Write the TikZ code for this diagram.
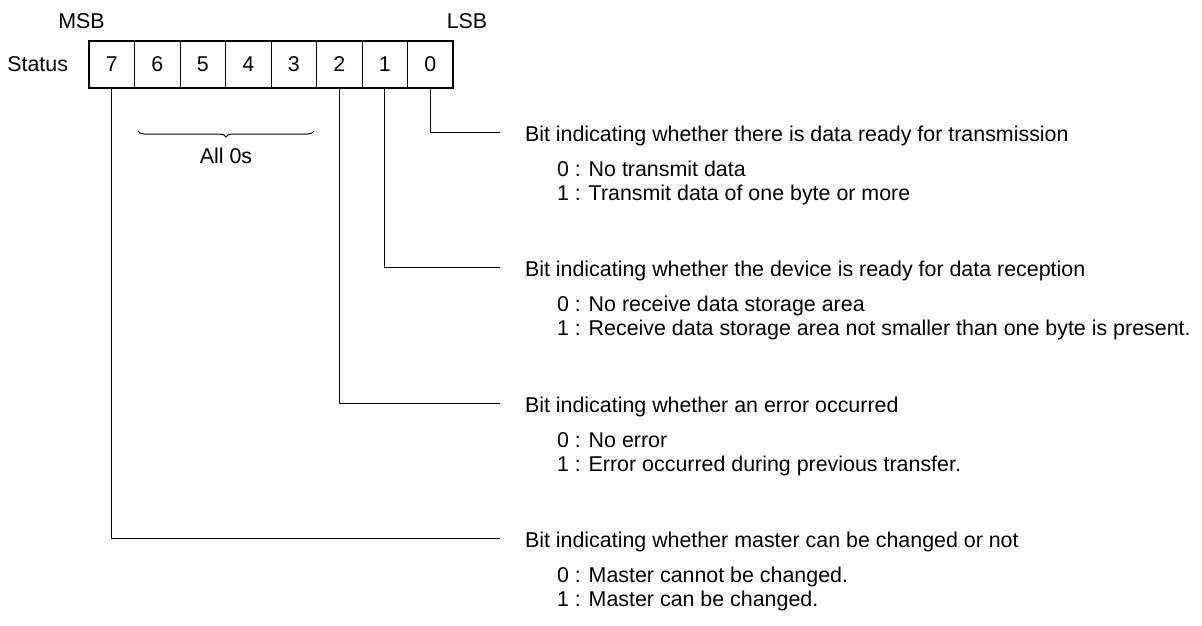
\documentclass[tikz,border=0pt]{standalone}
\usepackage{fontspec}
\setmainfont{Liberation Sans}
\usetikzlibrary{positioning,decorations.pathreplacing}

\begin{document}
\begin{tikzpicture}[x=1pt,y=-1pt,
  every node/.style={font=\fontsize{21.4}{25}\selectfont,inner sep=0pt,outer sep=0pt},
  cell/.style={draw,line width=1pt,minimum width=45.5pt,minimum height=47pt},
  frame/.style={draw,line width=2.6pt},
  link/.style={draw,line width=1pt},
  brace/.style={draw,line width=1pt,decorate,decoration={brace,mirror,amplitude=6pt}},
  head/.style={anchor=base west},
  choice/.style={anchor=base west},
  node distance=0pt
]
\useasboundingbox (0,0) rectangle (1202,626);
\node[cell] (b7) at (111.75,64.5) {7};
\foreach \i/\j in {6/7,5/6,4/5,3/4,2/3,1/2,0/1}
  \node[cell,right=of b\j] (b\i) {\i};
\draw[frame] (b7.north west) rectangle (b0.south east);
\node[left=21pt of b7] (status) {Status};
\node (msb) at (81.5,21) {MSB};
\node (lsb) at (467,21) {LSB};
\draw[brace] (138,131) -- (314,131);
\node (zeros) at (226,156) {All 0s};
\foreach \b/\y/\txt/\zero/\one in {
  0/132.5/{Bit indicating whether there is data ready for transmission}/{No transmit data}/{Transmit data of one byte or more},
  1/267.5/{Bit indicating whether the device is ready for data reception}/{No receive data storage area}/{Receive data storage area not smaller than one byte is present.},
  2/403/{Bit indicating whether an error occurred}/{No error}/{Error occurred during previous transfer.},
  7/538.5/{Bit indicating whether master can be changed or not}/{Master cannot be changed.}/{Master can be changed.}}{
  \coordinate (e\b) at (500,\y);
  \node[head] (h\b) at (525,\y+9) {\txt};
  \node[choice] (z\b) at (557,\y+44) {0 : \zero};
  \node[choice] (o\b) at (557,\y+68) {1 : \one};
  \draw[link] (b\b.south) |- (e\b);
}
\end{tikzpicture}
\end{document}
